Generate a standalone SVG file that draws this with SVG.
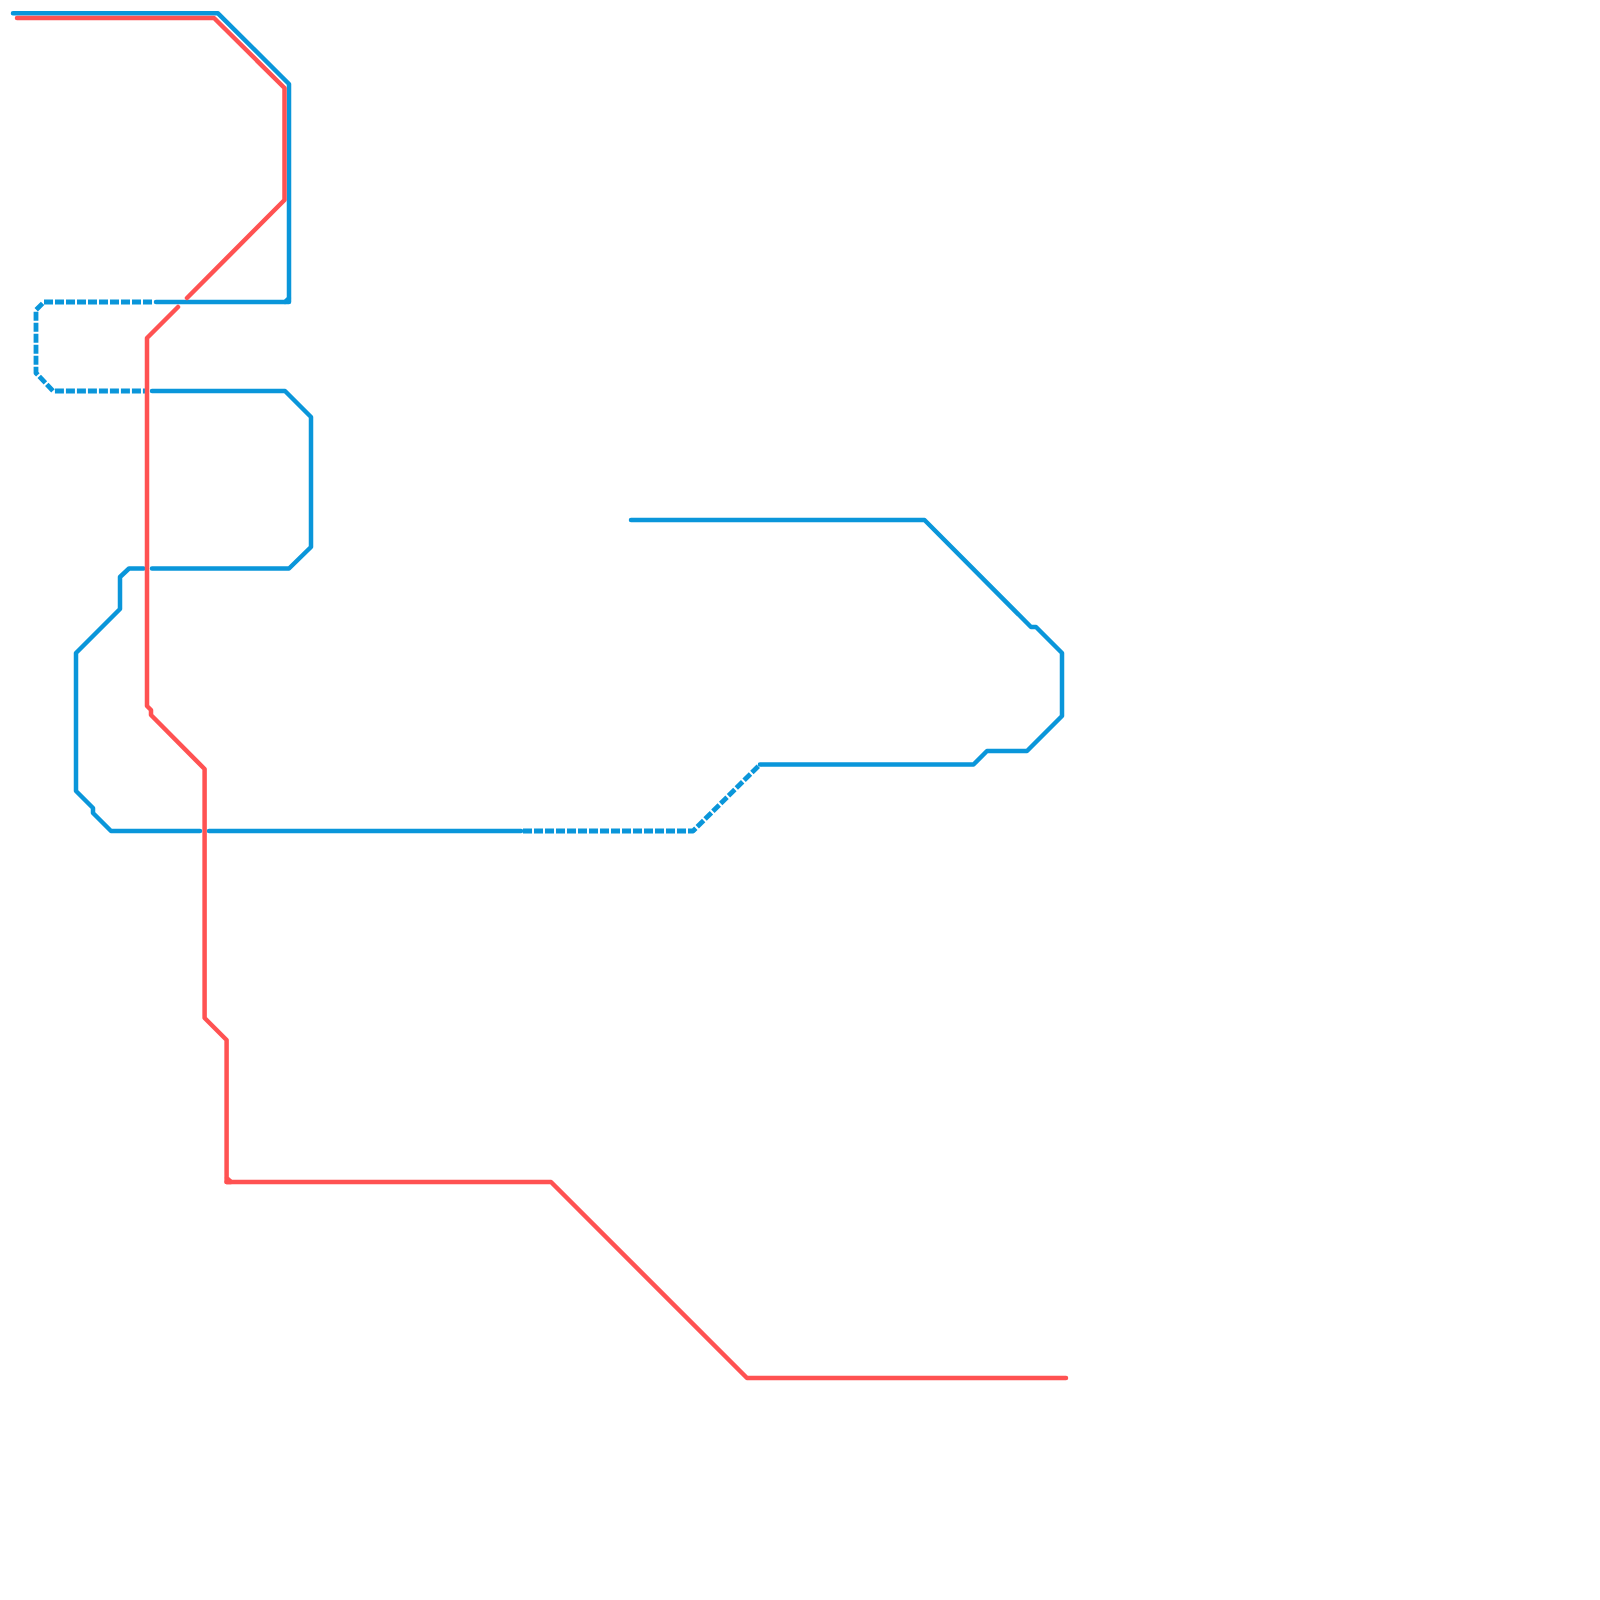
<svg xmlns="http://www.w3.org/2000/svg" width="1600" height="1600" viewBox="0 0 1600 1600">
<style>
path{fill:none;stroke-width:4.5;stroke-linejoin:round;stroke-linecap:round}
.b{stroke:#0a96da}
.r{stroke:#ff5252}
.d{stroke-dasharray:9 2;stroke-linecap:butt;stroke-width:4.8}
</style>
<rect width="1600" height="1600" fill="#fff"/>
<g id="connectors">
<g id="line-blue">
<path class="b" d="M13 13.3H218L289 84V302H285L289 298"/>
<path class="b" d="M285 302H156"/>
<path class="b d" d="M152 302H44L36 310V373L53 391H145"/>
<path class="b" d="M152 391H285L311 417V547L289 568.5H152"/>
<path class="b" d="M143.500 568.500H129L120 577V609L76 653V791L93 808V813L111 831H200"/>
<path class="b" d="M209 831H521"/>
<path class="b d" d="M523 831H693L760 764.5"/>
<path class="b" d="M760 764.5H973.500L987 751H1027L1062 716V653L1036 627H1031L924.500 520H631"/>
</g>
<g id="line-red">
<path class="r" d="M17 18H214L284.500 88V200L187 298"/>
<path class="r" d="M178 307L147 338V706L151 710V715L204.600 769V1018L226.600 1040V1182H231L226.600 1178"/>
<path class="r" d="M226.600 1182H551L747 1378H1066"/>
</g>
</g>
</svg>
